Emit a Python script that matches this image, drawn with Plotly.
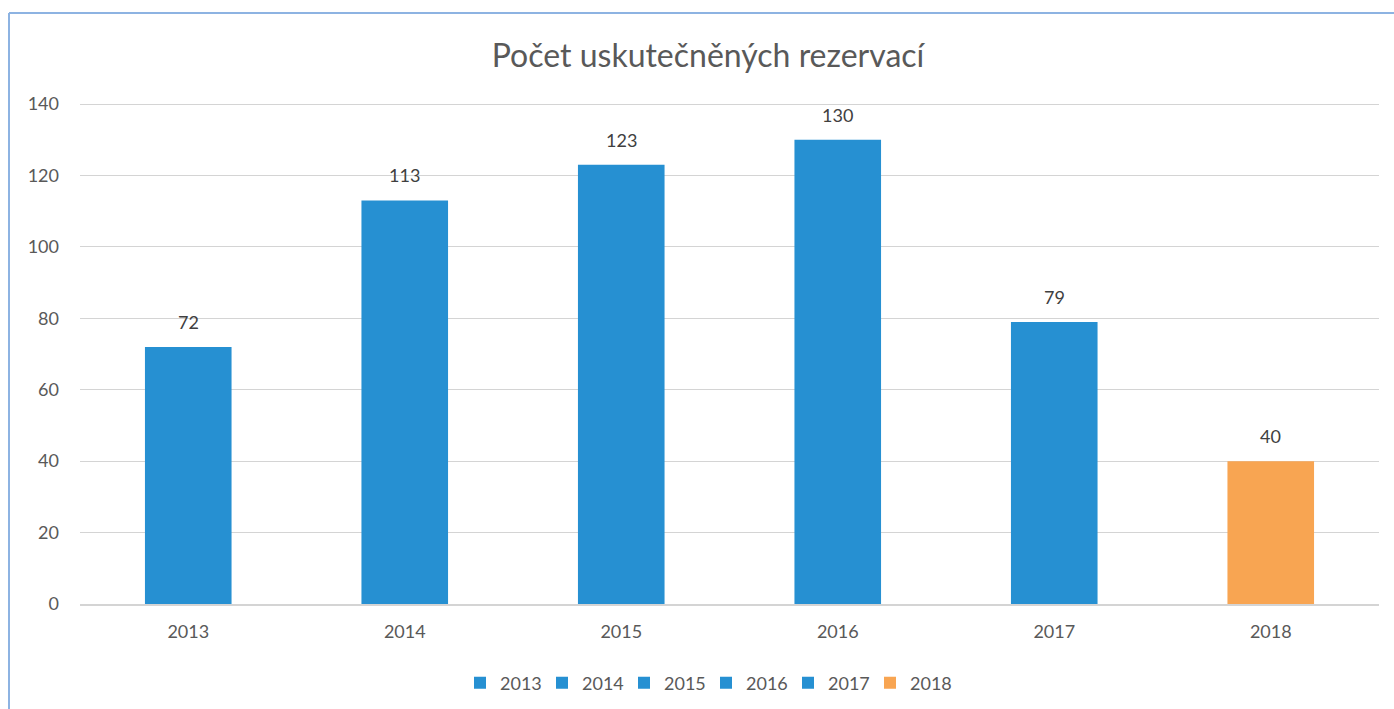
import plotly.graph_objects as go

years = ["2013", "2014", "2015", "2016", "2017", "2018"]
values = [72, 113, 123, 130, 79, 40]
colors = ["#2690D2", "#2690D2", "#2690D2", "#2690D2", "#2690D2", "#F8A552"]
title_text = "Počet uskutečněných rezervací"
y_ticks = [0, 20, 40, 60, 80, 100, 120, 140]

FONT = "Lato, Open Sans, sans-serif"
TXT = "#595959"

fig = go.Figure()
for yr, v, c in zip(years, values, colors):
    fig.add_trace(go.Bar(x=[yr], y=[v], name=yr, marker=dict(color=c, line=dict(width=0)),
                         width=0.4, showlegend=True))

for i, v in enumerate(values):
    fig.add_annotation(x=i, y=v, text=str(v), showarrow=False, yanchor="bottom", yshift=12,
                       font=dict(family=FONT, size=18, color="#404040"))

L, R, T, B = 80, 15, 103, 105
W, H = 1394, 709
pw, ph = W - L - R, H - T - B

def px(x):
    return (x - L) / pw

def py(y):
    return (H - B - y) / ph

fig.add_shape(type="line", xref="paper", yref="paper", x0=px(9), x1=px(1400), y0=py(13), y1=py(13),
              line=dict(color="#8DB3E2", width=2))
fig.add_shape(type="line", xref="paper", yref="paper", x0=px(9), x1=px(9), y0=py(13), y1=py(715),
              line=dict(color="#8DB3E2", width=2))

fig.update_layout(
    width=W, height=H,
    margin=dict(l=L, r=R, t=T, b=B, autoexpand=False),
    paper_bgcolor="white", plot_bgcolor="white",
    barmode="overlay",
    title=dict(text=title_text, xref="container", x=708 / W, xanchor="center",
               yref="container", y=1 - 56 / H, yanchor="middle",
               font=dict(family=FONT, size=32, color=TXT)),
    font=dict(family=FONT, size=18, color=TXT),
    xaxis=dict(type="category", categoryorder="array", categoryarray=years, range=[-0.5, 5.5],
               showgrid=False, showline=True, linecolor="#D4D4D4", linewidth=1.5,
               ticks="", tickfont=dict(size=18, color=TXT), ticklabelstandoff=11),
    yaxis=dict(range=[0, 140.3], tickvals=y_ticks, showgrid=True, gridcolor="#D4D4D4", gridwidth=1.2,
               zeroline=False, showline=False, ticks="", tickfont=dict(size=18, color=TXT),
               ticklabelstandoff=20),
    legend=dict(orientation="h", xref="container", x=706 / W, xanchor="center",
                yref="container", y=1 - 683 / H, yanchor="middle",
                font=dict(size=18, color=TXT), itemwidth=30, traceorder="normal",
                entrywidth=37, entrywidthmode="pixels"),
)

fig.write_html("out.html", config={"displayModeBar": False},
               post_script="document.body.style.margin='0';")
